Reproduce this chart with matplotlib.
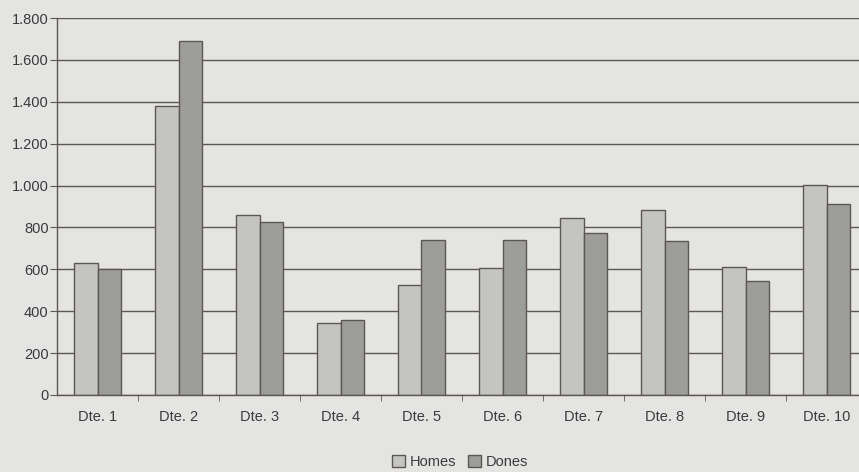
import matplotlib.pyplot as plt
import numpy as np
from matplotlib.patches import Patch

categories = ["Dte. 1", "Dte. 2", "Dte. 3", "Dte. 4", "Dte. 5", "Dte. 6", "Dte. 7", "Dte. 8", "Dte. 9", "Dte. 10"]
homes = [630, 1380, 860, 345, 525, 605, 845, 885, 610, 1005]
dones = [600, 1690, 825, 360, 740, 740, 775, 735, 545, 910]
y_ticks = [0, 200, 400, 600, 800, 1000, 1200, 1400, 1600, 1800]
y_labels = ["0", "200", "400", "600", "800", "1.000", "1.200", "1.400", "1.600", "1.800"]

paper = "#e4e5e3"
line_col = "#5e5656"
homes_col = "#c4c5c3"
dones_col = "#9d9e9c"
text_col = "#3a3a3a"

plt.rcParams["font.family"] = ["Liberation Sans", "DejaVu Sans"]

fig = plt.figure(figsize=(8.59, 4.72), dpi=100)
fig.patch.set_facecolor(paper)
# plot area runs past the right edge of the picture, as in the scan
ax = fig.add_axes([57 / 859, 77 / 472, 810 / 859, 377 / 472])
ax.set_facecolor(paper)

x = np.arange(len(categories))
w = 0.29
ax.bar(x - w / 2, homes, w, color=homes_col, edgecolor=line_col, linewidth=1.0, zorder=3)
ax.bar(x + w / 2, dones, w, color=dones_col, edgecolor=line_col, linewidth=1.0, zorder=3)

ax.set_xlim(-0.5, len(categories) - 0.5)
ax.set_ylim(0, 1800)
ax.set_yticks(y_ticks)
ax.set_yticklabels(y_labels)
ax.set_xticks(x)
ax.set_xticklabels(categories)
ax.set_xticks(x[:-1] + 0.5, minor=True)
ax.tick_params(axis="x", which="major", length=0, pad=11, labelsize=10.5, colors=text_col)
ax.tick_params(axis="x", which="minor", length=4, direction="out", color=line_col)
ax.tick_params(axis="y", length=5, direction="out", color=line_col, labelsize=10.5, labelcolor=text_col, pad=1)

ax.grid(axis="y", color=line_col, linewidth=1.0, zorder=0)
ax.set_axisbelow(True)
for side in ("top", "right"):
  ax.spines[side].set_visible(False)
for side in ("left", "bottom"):
  ax.spines[side].set_color(line_col)
  ax.spines[side].set_linewidth(1.0)
  ax.spines[side].set_zorder(4)

handles = [
  Patch(facecolor=homes_col, edgecolor=line_col, label="Homes"),
  Patch(facecolor=dones_col, edgecolor=line_col, label="Dones"),
]
fig.legend(handles=handles, loc="center", bbox_to_anchor=(460 / 859, 1 - 462 / 472), ncol=2,
           frameon=False, handlelength=0.9, handleheight=0.9, handletextpad=0.3, columnspacing=0.8,
           fontsize=10.5, labelcolor=text_col)

fig.savefig("out.png", dpi=100, facecolor=paper)
